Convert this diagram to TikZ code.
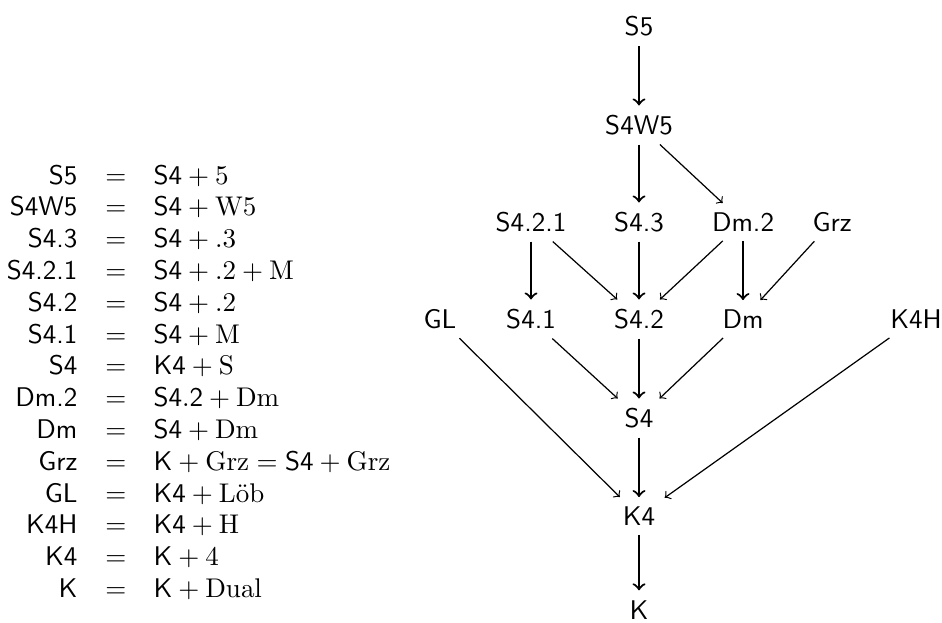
\documentclass[tikz,border=0pt]{standalone}
\usepackage{amsmath}
\begin{document}
\begin{tikzpicture}[x=0.37pt,y=-0.37pt,
  lbl/.style={font=\sffamily},
  vert/.style={->,line width=0.8pt},
  diag/.style={->,line width=0.45pt},
  lhs/.style={anchor=base east,inner sep=0pt,font=\sffamily},
  eqs/.style={anchor=base,inner sep=0pt},
  rhs/.style={anchor=base west,inner sep=0pt}]
\useasboundingbox (0,0) rectangle (942,622);

% ---- definitions table ----
\foreach \l/\r [count=\i from 0] in {
  {S5}/{$\mathsf{S4}+5$},
  {S4W5}/{$\mathsf{S4}+\mathrm{W5}$},
  {S4.3}/{$\mathsf{S4}+.3$},
  {S4.2.1}/{$\mathsf{S4}+.2+\mathrm{M}$},
  {S4.2}/{$\mathsf{S4}+.2$},
  {S4.1}/{$\mathsf{S4}+\mathrm{M}$},
  {S4}/{$\mathsf{K4}+\mathrm{S}$},
  {Dm.2}/{$\mathsf{S4.2}+\mathrm{Dm}$},
  {Dm}/{$\mathsf{S4}+\mathrm{Dm}$},
  {Grz}/{$\mathsf{K}+\mathrm{Grz}=\mathsf{S4}+\mathrm{Grz}$},
  {GL}/{$\mathsf{K4}+\text{L\"ob}$},
  {K4H}/{$\mathsf{K4}+\mathrm{H}$},
  {K4}/{$\mathsf{K}+4$},
  {K}/{$\mathsf{K}+\mathrm{Dual}$}} {
  \node[lhs] (l\i) at (78,{184+31.8*\i}) {\l};
  \node[eqs] (e\i) at (116,{184+31.8*\i}) {$=$};
  \node[rhs] (r\i) at (153,{184+31.8*\i}) {\r};
}

% ---- lattice ----
\node[lbl] (s5)   at (639,26.5) {S5};
\node[lbl] (s4w5) at (639,125)  {S4W5};
\node[lbl] (s421) at (531,222)  {S4.2.1};
\node[lbl] (s43)  at (639,222)  {S4.3};
\node[lbl] (dm2)  at (743,222)  {Dm.2};
\node[lbl] (grz)  at (832,222)  {Grz};
\node[lbl] (gl)   at (440,319)  {GL};
\node[lbl] (s41)  at (531,319)  {S4.1};
\node[lbl] (s42)  at (639,319)  {S4.2};
\node[lbl] (dm)   at (743,319)  {Dm};
\node[lbl] (k4h)  at (916,319)  {K4H};
\node[lbl] (s4)   at (639,418)  {S4};
\node[lbl] (k4)   at (639,516)  {K4};
\node[lbl,inner ysep=1pt] (k) at (639,610) {K};

\draw[vert] (s5) -- (s4w5);
\draw[vert] (s4w5) -- (s43);
\draw[diag] (s4w5) -- (dm2);
\draw[vert] (s421) -- (s41);
\draw[diag] (s421) -- (s42);
\draw[vert] (s43) -- (s42);
\draw[diag] (dm2) -- (s42);
\draw[vert] (dm2) -- (dm);
\draw[diag] (grz) -- (dm);
\draw[diag] (s41) -- (s4);
\draw[vert] (s42) -- (s4);
\draw[diag] (dm) -- (s4);
\draw[diag] (gl) -- (k4);
\draw[diag] (k4h) -- (k4);
\draw[vert] (s4) -- (k4);
\draw[vert,shorten >=2.6pt] (k4) -- (k);
\end{tikzpicture}
\end{document}
